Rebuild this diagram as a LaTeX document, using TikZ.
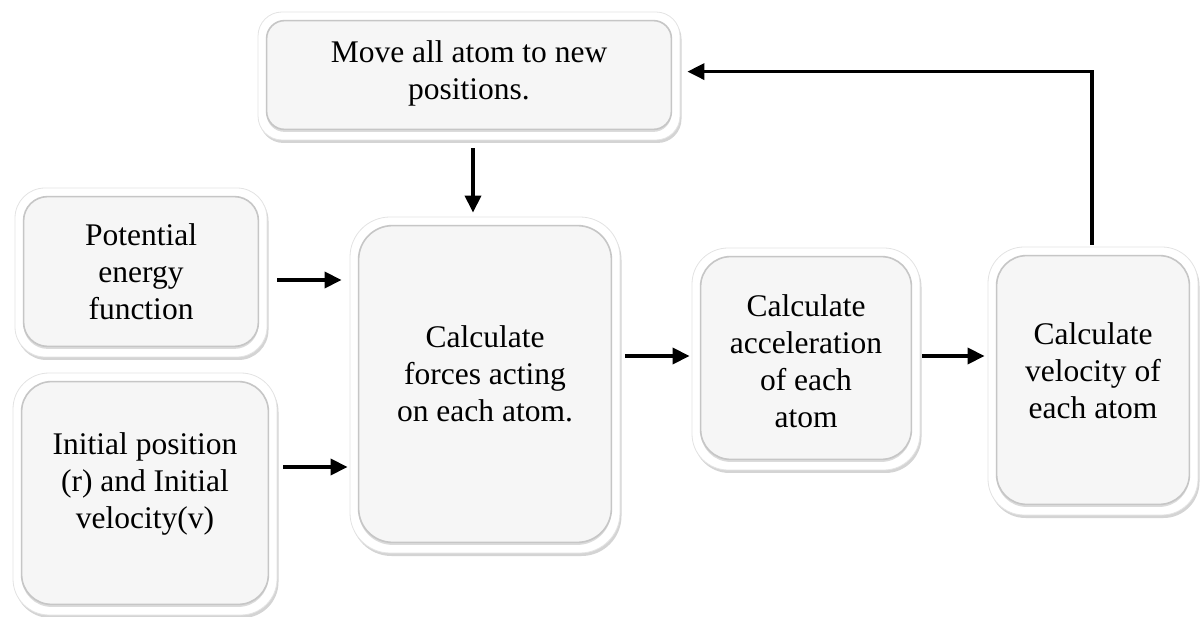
\documentclass[tikz,border=0pt]{standalone}
\usepackage{fontspec}
\setmainfont{Liberation Serif}
\newfontfamily\tnrfont{Liberation Serif}
\usetikzlibrary{arrows.meta,shadows,calc}
\begin{document}
\begin{tikzpicture}[x=1pt,y=-1pt,
  outerbox/.style={draw=gray!22, line width=0.8pt, fill=white, rounded corners=#1,
    drop shadow={shadow xshift=1.5pt, shadow yshift=-3pt, opacity=0.4, fill=gray!85},
    inner sep=0pt},
  outerbox/.default=30pt,
  innerbox/.style={draw=gray!45, line width=1.6pt, fill={rgb,255:red,246;green,246;blue,246}, rounded corners=#1,
    drop shadow={shadow xshift=0pt, shadow yshift=-2.5pt, opacity=0.4, fill=gray!70}},
  innerbox/.default=24pt,
  txt/.style={align=center, font=\tnrfont\fontsize{31.5}{37}\selectfont, inner sep=0pt, text=black},
  arr/.style={line width=3.4pt, -{Triangle[length=17pt,width=16pt]}}
]
\useasboundingbox (0,0) rectangle (1200,617);

% outer frames
\node[outerbox=24pt, minimum width=422pt, minimum height=128pt] (move) at (469,76) {};
\node[outerbox, minimum width=252pt, minimum height=169pt] (pot) at (141,272.5) {};
\node[outerbox=36pt, minimum width=264pt, minimum height=242pt] (init) at (145,494) {};
\node[outerbox=40pt, minimum width=270pt, minimum height=336pt] (forces) at (485,385) {};
\node[outerbox=36pt, minimum width=228pt, minimum height=222pt] (accel) at (806,359) {};
\node[outerbox=36pt, minimum width=210pt, minimum height=268pt] (vel) at (1093,381) {};

% inner panels
\foreach \n/\r in {move/18pt, pot/24pt, init/30pt, forces/34pt, accel/30pt, vel/30pt}{
  \draw[innerbox=\r] ([shift={(9pt,-9pt)}]\n.north west) rectangle ([shift={(-9pt,11pt)}]\n.south east);
}

% texts
\node[txt] (movet) at (469,73) {Move all atom to new\\positions.};
\node[txt] (pott) at (141,272) {Potential\\energy\\function};
\node[txt] (initt) at (145,484) {Initial position\\(r) and Initial\\velocity(v)};
\node[txt] (forcest) at (485,374) {Calculate\\forces acting\\on each atom.};
\node[txt] (accelt) at (806,361) {Calculate\\acceleration\\of each\\atom};
\node[txt] (velt) at (1093,371) {Calculate\\velocity of\\each atom};

% connectors
\draw[arr, shorten <=10pt, shorten >=8pt] ([yshift=-7.5pt]pot.east) -- ([yshift=-7.5pt]pot.east -| forces.west);
\draw[arr, shorten <=6pt, shorten >=2pt] ([yshift=27pt]init.east) -- ([yshift=27pt]init.east -| forces.west);
\draw[arr, shorten <=8pt, shorten >=4pt] ([xshift=4pt]move.south) -- ([xshift=4pt]move.south |- forces.north);
\draw[arr, shorten <=5pt, shorten >=2pt] ([yshift=29pt]forces.east) -- ([yshift=29pt]forces.east -| accel.west);
\draw[arr, shorten <=2pt, shorten >=3pt] ([yshift=3pt]accel.east) -- ([yshift=3pt]accel.east -| vel.west);
\coordinate (corner) at ($(vel.north)+(-1,-175)$);
\draw[arr, shorten <=2pt, shorten >=7pt, line join=miter] (vel.north -| corner) -- (corner) -- (corner -| move.east);
\end{tikzpicture}
\end{document}
